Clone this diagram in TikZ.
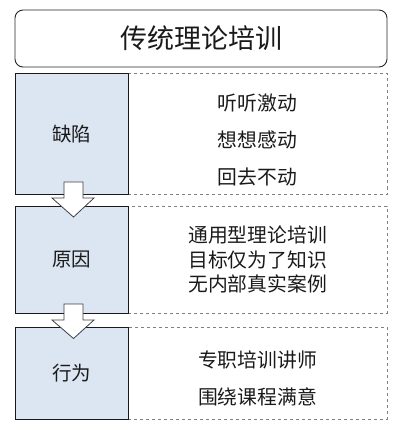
\documentclass[tikz,border=0pt]{standalone}
\usepackage{fontspec}
\setmainfont{Noto Sans CJK SC}
\definecolor{boxblue}{HTML}{DCE6F2}
\definecolor{dashgray}{HTML}{808080}
\definecolor{txt}{HTML}{1A1A1A}
\begin{document}
\begin{tikzpicture}[x=1pt,y=-1pt,
  titlebox/.style={draw=black!85,line width=0.9pt,rounded corners=8pt,minimum width=372pt,minimum height=57pt,inner sep=0pt,font=\fontsize{27}{31}\selectfont,text=txt},
  labbox/.style={draw=black!90,line width=0.9pt,fill=boxblue,minimum width=113pt,inner sep=0pt,font=\fontsize{19.5}{24}\selectfont,text=txt},
  dbox/.style={draw=dashgray,dashed,line width=0.6pt,minimum width=259pt,inner sep=0pt,font=\fontsize{19.5}{24}\selectfont,text=txt,align=center},
  itemtext/.style={font=\fontsize{19.8}{24}\selectfont,text=txt},
  blockarrow/.style={draw=black!75,fill=white,line width=0.8pt,line join=miter}]
\useasboundingbox (0,0) rectangle (402,430);
\node[titlebox] (title) at (201,38.5) {传统理论培训};
% row 1
\node[dbox,minimum height=121pt] (d1) at (257.5,134) {};
\node[labbox,minimum height=121pt] (l1) at (71.5,134) {缺陷};
\node[itemtext] (t11) at (257.5,103) {听听激动};
\node[itemtext] (t12) at (257.5,140) {想想感动};
\node[itemtext] (t13) at (257.5,177) {回去不动};
% row 2
\node[dbox,minimum height=107pt] (d2) at (257.5,259.5) {};
\node[labbox,minimum height=107pt] (l2) at (71.5,259.5) {原因};
\node[itemtext] (t21) at (257.5,235) {通用型理论培训};
\node[itemtext] (t22) at (257.5,259.5) {目标仅为了知识};
\node[itemtext] (t23) at (257.5,284) {无内部真实案例};
% row 3
\node[dbox,minimum height=92pt] (d3) at (257.5,373) {};
\node[labbox,minimum height=92pt] (l3) at (71.5,373) {行为};
\node[itemtext] (t31) at (257.5,360) {专职培训讲师};
\node[itemtext] (t32) at (257.5,397) {围绕课程满意};
% block arrows
\draw[blockarrow] (64,182) -- (83,182) -- (83,198) -- (94,198) -- (73.5,217) -- (52,198) -- (64,198) -- cycle;
\draw[blockarrow] (64,304) -- (83,304) -- (83,320) -- (94,320) -- (73.5,338.5) -- (52,320) -- (64,320) -- cycle;
\end{tikzpicture}
\end{document}
